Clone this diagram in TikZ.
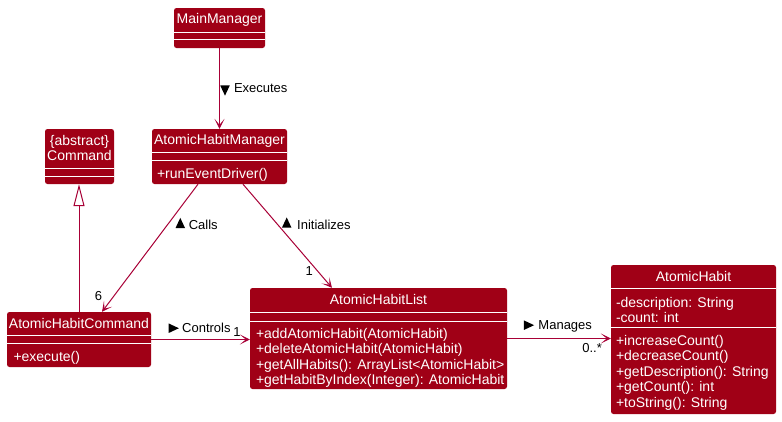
\documentclass[tikz,border=0pt]{standalone}
\usepackage{fontspec}
\setmainfont{Liberation Sans}
\usetikzlibrary{arrows.meta, shapes.geometric}

\definecolor{classfill}{RGB}{160,0,22}
\definecolor{linkcol}{RGB}{168,0,54}

\tikzset{
  classbox/.style={fill=classfill, rounded corners=2.5pt, inner sep=0pt},
  classname/.style={text=white, font=\fontsize{14}{15}\selectfont, inner sep=0pt, align=center},
  members/.style={text=white, font=\fontsize{14}{15.5}\selectfont, inner sep=0pt, align=left, anchor=north west},
  sepline/.style={white, line width=1pt},
  link/.style={linkcol, line width=1pt, -{Stealth[length=10pt,width=10pt,inset=6pt]}},
  extends/.style={linkcol, line width=1pt, -{Triangle[length=22pt,width=11pt,fill=white]}},
  linklabel/.style={text=black, font=\fontsize{13}{13}\selectfont, inner sep=2pt},
  dirmark/.style={isosceles triangle, isosceles triangle apex angle=50, fill=black,
    inner sep=0pt, minimum size=9.5pt},
}

\begin{document}
\begin{tikzpicture}[x=1pt,y=-1pt]
    \useasboundingbox (0,0) rectangle (782,421);

    % class boxes
    \node[classbox, minimum width=91pt, minimum height=40pt]   (main)  at (219.5,28)   {};
    \node[classbox, minimum width=69pt, minimum height=55pt]   (abs)   at (79.5,156.5) {};
    \node[classbox, minimum width=135pt, minimum height=55pt]  (mgr)   at (219.5,156.5) {};
    \node[classbox, minimum width=144pt, minimum height=55pt]  (cmd)   at (79,339.5)   {};
    \node[classbox, minimum width=257pt, minimum height=101pt] (list)  at (378.5,338.5) {};
    \node[classbox, minimum width=165pt, minimum height=149pt] (habit) at (693.5,339.5) {};

    % compartment lines
    \draw[sepline] ([yshift=-25pt]main.north west) -- ([yshift=-25pt]main.north east)
        ([yshift=-32pt]main.north west) -- ([yshift=-32pt]main.north east);
    \draw[sepline] ([yshift=-40pt]abs.north west) -- ([yshift=-40pt]abs.north east)
        ([yshift=-48pt]abs.north west) -- ([yshift=-48pt]abs.north east);
    \draw[sepline] ([yshift=-24pt]mgr.north west) -- ([yshift=-24pt]mgr.north east)
        ([yshift=-32pt]mgr.north west) -- ([yshift=-32pt]mgr.north east);
    \draw[sepline] ([yshift=-24pt]cmd.north west) -- ([yshift=-24pt]cmd.north east)
        ([yshift=-32pt]cmd.north west) -- ([yshift=-32pt]cmd.north east);
    \draw[sepline] ([yshift=-25pt]list.north west) -- ([yshift=-25pt]list.north east)
        ([yshift=-34pt]list.north west) -- ([yshift=-34pt]list.north east);
    \draw[sepline] ([yshift=-24pt]habit.north west) -- ([yshift=-24pt]habit.north east)
        ([yshift=-63pt]habit.north west) -- ([yshift=-63pt]habit.north east);

    % class names
    \node[classname] (mainname)  at ([yshift=-12pt]main.north)   {MainManager};
    \node[classname] (absname)   at ([yshift=-19.5pt]abs.north)  {\{abstract\}\\Command};
    \node[classname] (mgrname)   at ([yshift=-12pt]mgr.north)    {AtomicHabitManager};
    \node[classname] (cmdname)   at ([yshift=-12pt]cmd.north)    {AtomicHabitCommand};
    \node[classname] (listname)  at ([yshift=-12pt]list.north)   {AtomicHabitList};
    \node[classname] (habitname) at ([yshift=-12pt]habit.north)  {AtomicHabit};

    % members
    \node[members] (mgrops)    at ([xshift=5pt,yshift=-39pt]mgr.north west)   {+runEventDriver()};
    \node[members] (cmdops)    at ([xshift=6.5pt,yshift=-39pt]cmd.north west) {+execute()};
    \node[members] (listops)   at ([xshift=6pt,yshift=-40pt]list.north west)
        {+addAtomicHabit(AtomicHabit)\\+deleteAtomicHabit(AtomicHabit)\\+getAllHabits(): ArrayList<AtomicHabit>\\+getHabitByIndex(Integer): AtomicHabit};
    \node[members] (habitattr) at ([xshift=5pt,yshift=-32pt]habit.north west)
        {-description: String\\-count: int};
    \node[members] (habitops)  at ([xshift=5pt,yshift=-70pt]habit.north west)
        {+increaseCount()\\+decreaseCount()\\+getDescription(): String\\+getCount(): int\\+toString(): String};

    % relations
    \draw[link] (main.south) -- (mgr.north)
        node[pos=0.5, anchor=west, linklabel, xshift=12pt] (execlbl) {Executes};
    \draw[link] ([xshift=-21.5pt]mgr.south) -- ([xshift=23pt]cmd.north)
        node[pos=0.32, anchor=west, linklabel, xshift=19pt] (calllbl) {Calls}
        node[pos=0.88, anchor=east, linklabel, xshift=-9pt] (callmult) {6};
    \draw[link] ([xshift=23.5pt]mgr.south) -- ([xshift=-46.5pt]list.north)
        node[pos=0.39, anchor=west, linklabel, xshift=17pt] (initlbl) {Initializes}
        node[pos=0.84, anchor=east, linklabel, xshift=-2.5pt] (initmult) {1};
    \draw[link] (cmd.east) -- (cmd.east -| list.west)
        node[pos=0.56, above, linklabel, yshift=4pt] (ctrllbl) {Controls}
        node[pos=0.87, above, linklabel, inner sep=1pt, yshift=2pt] (ctrlmult) {1};
    \draw[link] (list.east) -- (list.east -| habit.west)
        node[pos=0.56, above, linklabel, yshift=4pt] (mnglbl) {Manages}
        node[pos=0.82, below, linklabel, inner sep=1pt, yshift=-3pt] (mngmult) {0..*};
    \draw[extends] (cmd.north) -- (cmd.north |- abs.south);

    % direction marks
    \node[dirmark, shape border rotate=-90] (execmark) at ([xshift=-6.5pt]execlbl.west) {};
    \node[dirmark, shape border rotate=52]  (callmark) at ([xshift=-6pt]calllbl.west) {};
    \node[dirmark, shape border rotate=131] (initmark) at ([xshift=-8pt]initlbl.west) {};
    \node[dirmark] (ctrlmark) at ([xshift=-8pt]ctrllbl.west) {};
    \node[dirmark] (mngmark)  at ([xshift=-9pt,yshift=1pt]mnglbl.west) {};
\end{tikzpicture}
\end{document}
